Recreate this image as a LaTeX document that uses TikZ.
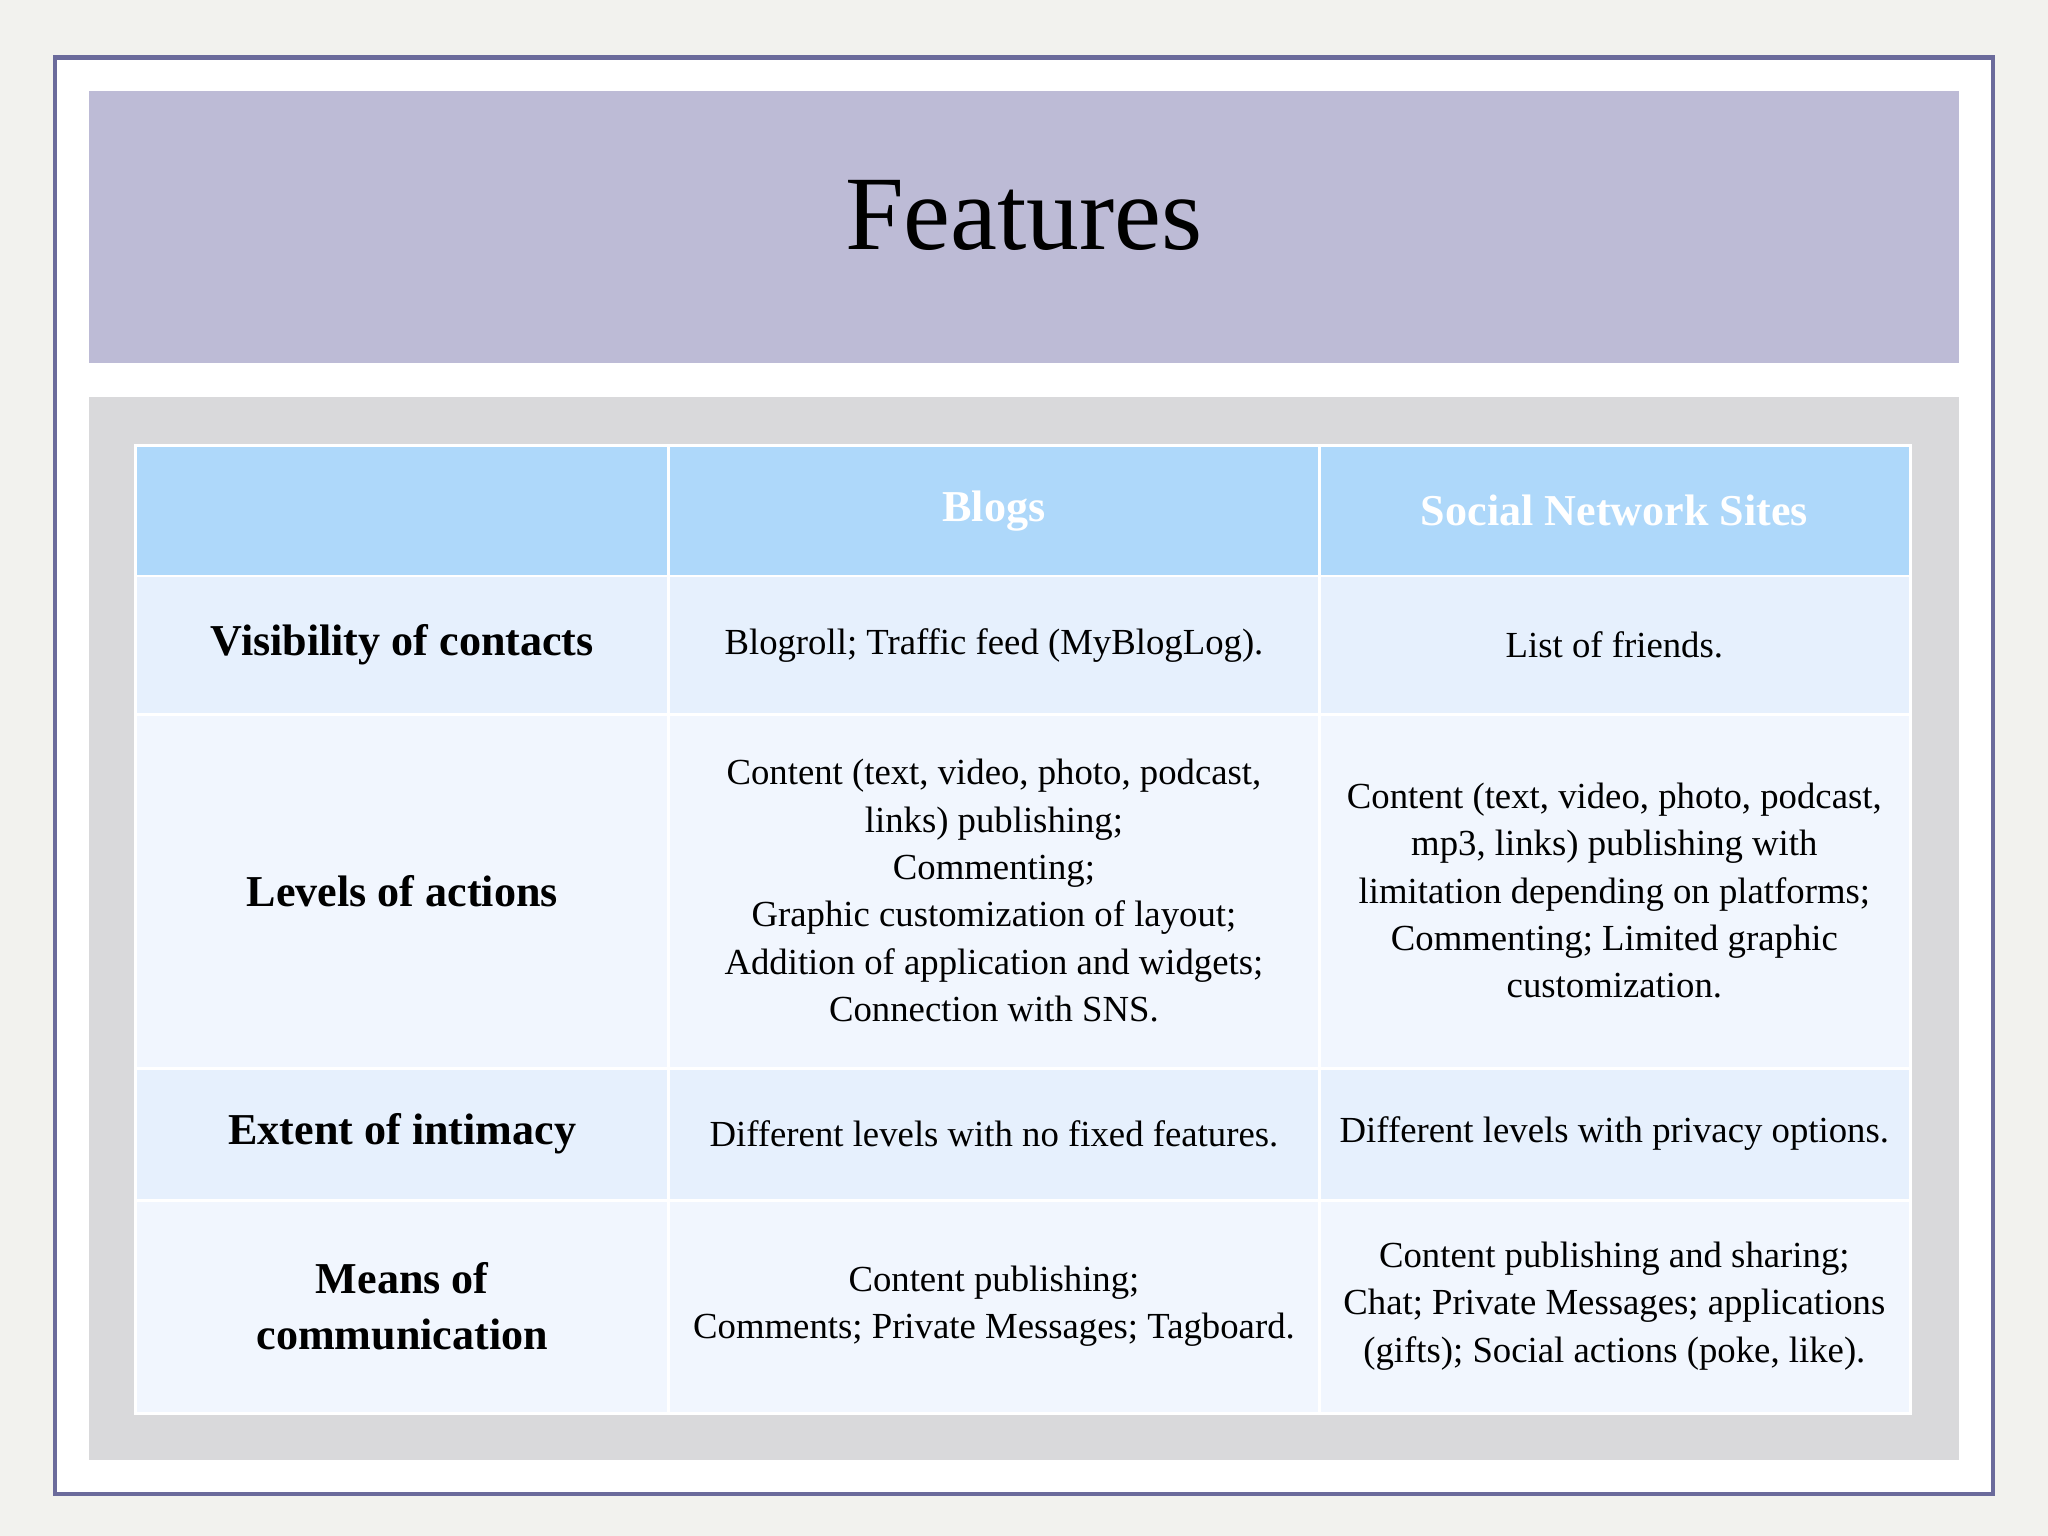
\documentclass[tikz,border=0pt]{standalone}
\usepackage{fontspec}
\setmainfont{Liberation Serif}
\definecolor{bgc}{HTML}{F2F2EE}
\definecolor{frame}{HTML}{6B6B9B}
\definecolor{band}{HTML}{BDBBD6}
\definecolor{panel}{HTML}{D9D9DB}
\definecolor{head}{HTML}{AED8FA}
\definecolor{rowa}{HTML}{E6F0FD}
\definecolor{rowb}{HTML}{F1F6FE}
\begin{document}
\begin{tikzpicture}[x=0.01cm,y=-0.01cm,
  cell/.style={draw=white,line width=0.6pt},
  body/.style={align=center,font=\fontsize{8}{10.3}\selectfont,text=black},
  rhead/.style={align=center,font=\fontsize{9.6}{12.2}\selectfont\bfseries,text=black},
  chead/.style={align=center,font=\fontsize{9.6}{12}\selectfont\bfseries,text=white}]
\fill[bgc] (0,0) rectangle (1568,1176);
\useasboundingbox (0,0) rectangle (1568,1176);
\draw[frame,line width=1pt,fill=white] (42,44) rectangle (1526,1144);
\fill[band] (68,70) rectangle (1500,278);
\node (title) at (784,165) {\fontsize{23}{26}\selectfont Features};
\fill[panel] (68,304) rectangle (1500,1118);
% rows
\foreach \ya/\yb/\c in {341/441/head,441/547/rowa,547/818/rowb,818/919/rowa,919/1082/rowb}{
  \foreach \xa/\xb in {104/512,512/1010,1010/1463}{
    \filldraw[\c,cell] (\xa,\ya) rectangle (\xb,\yb);
  }
}
\node[chead] (h1) at (761,391) {Blogs};
\node[chead] (h2) at (1236,391) {Social Network Sites};
\node[rhead] (r1) at (308,494) {Visibility of contacts};
\node[body] (b1) at (761,494) {Blogroll; Traffic feed (MyBlogLog).};
\node[body] (s1) at (1236,494) {List of friends.};
\node[rhead] (r2) at (308,682) {Levels of actions};
\node[body] (b2) at (761,682) {Content (text, video, photo, podcast,\\links) publishing;\\Commenting;\\Graphic customization of layout;\\Addition of application and widgets;\\Connection with SNS.};
\node[body] (s2) at (1236,682) {Content (text, video, photo, podcast,\\mp3, links) publishing with\\limitation depending on platforms;\\Commenting; Limited graphic\\customization.};
\node[rhead] (r3) at (308,868) {Extent of intimacy};
\node[body] (b3) at (761,868) {Different levels with no fixed features.};
\node[body] (s3) at (1236,868) {Different levels with privacy options.};
\node[rhead] (r4) at (308,1000) {Means of\\communication};
\node[body] (b4) at (761,1000) {Content publishing;\\Comments; Private Messages; Tagboard.};
\node[body] (s4) at (1236,1000) {Content publishing and sharing;\\Chat; Private Messages; applications\\(gifts); Social actions (poke, like).};
\end{tikzpicture}
\end{document}
